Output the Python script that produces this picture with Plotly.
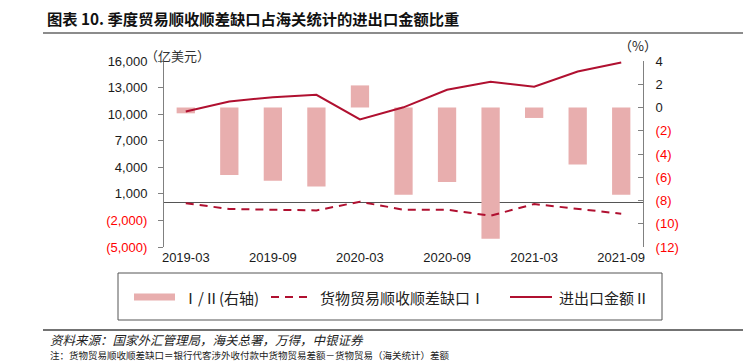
import plotly.graph_objects as go

# ---------------- data ----------------
quarters = ["2019-03", "2019-06", "2019-09", "2019-12", "2020-03", "2020-06",
            "2020-09", "2020-12", "2021-03", "2021-06", "2021-09"]
ratio_pct = [-0.5, -5.8, -6.3, -6.8, 1.9, -7.5, -6.4, -11.3, -0.9, -4.9, -7.5]      # I/II (right axis, %)
gap_usd = [-50, -710, -790, -870, 110, -790, -790, -1470, -150, -710, -1240]       # 货物贸易顺收顺差缺口 I
trade_usd = [10300, 11430, 11920, 12180, 9400, 10770, 12750, 13650, 13090, 14810, 15830]  # 进出口金额 II
x_tick_labels = quarters[::2]
left_ticks = [-5000, -2000, 1000, 4000, 7000, 10000, 13000, 16000]
right_ticks = [-12, -10, -8, -6, -4, -2, 0, 2, 4]

# ---------------- styles ----------------
W, H = 751, 362
OFF = 8  # page body margin offset
L, R, T, B = 164 - OFF, 643 - OFF, 61 - OFF, 247 - OFF
BAR_C = "#E8AEAE"
LINE_C = "#B01030"
NEG_C = "#FF0000"
CJK = "Noto Sans CJK SC"
LAT = "Liberation Sans, Arial"


def fmt_left(v):
    if v < 0:
        return f"<span style='color:{NEG_C}'>({abs(v):,})</span>"
    return f"{v:,}"


def fmt_right(v):
    if v < 0:
        return f"<span style='color:{NEG_C}'>({abs(v)})</span>"
    return f"{v}"


def px(x):
    return (x - OFF - L) / (R - L)


def py(y):
    return (B - (y - OFF)) / (B - T)


fig = go.Figure()
fig.add_trace(go.Bar(x=quarters, y=ratio_pct, yaxis="y", marker_color=BAR_C,
                     marker_line_width=0, width=0.42, name="Ⅰ/Ⅱ(右轴)"))
fig.add_trace(go.Scatter(x=quarters, y=gap_usd, yaxis="y2", mode="lines",
                         line=dict(color=LINE_C, width=2, dash="8px,6px"),
                         name="货物贸易顺收顺差缺口Ⅰ"))
fig.add_trace(go.Scatter(x=quarters, y=trade_usd, yaxis="y2", mode="lines",
                         line=dict(color=LINE_C, width=2), name="进出口金额Ⅱ"))

axis_font = dict(family=LAT, size=13, color="#1a1a1a")
fig.update_layout(
    width=W, height=H,
    margin=dict(l=L, r=W - R, t=T, b=H - B),
    paper_bgcolor="white", plot_bgcolor="white",
    showlegend=False,
    xaxis=dict(type="category", range=[-0.5, 10.5], tickmode="array",
               tickvals=x_tick_labels, ticktext=x_tick_labels,
               showline=False, showgrid=False, zeroline=False, ticks="",
               tickfont=axis_font, ticklabelstandoff=1),
    yaxis=dict(side="right", range=[-12, 4], tickmode="array",
               tickvals=right_ticks, ticktext=[fmt_right(v) for v in right_ticks],
               showgrid=False, zeroline=False, showline=True, linecolor="#808080",
               linewidth=1, ticks="inside", ticklen=5, tickcolor="#808080",
               tickfont=axis_font, ticklabelstandoff=9),
    yaxis2=dict(side="left", overlaying="y", range=[-5000, 16000], tickmode="array",
                tickvals=left_ticks, ticktext=[fmt_left(v) for v in left_ticks],
                showgrid=False, zeroline=True, zerolinecolor="#555555", zerolinewidth=1,
                showline=True, linecolor="#808080", linewidth=1, ticks="outside",
                ticklen=5, tickcolor="#808080", tickfont=axis_font, ticklabelstandoff=8),
)

shapes = []
annotations = []

# title + rule
annotations.append(dict(xref="paper", yref="paper", x=px(45), y=py(18), xanchor="left",
                        yanchor="middle", showarrow=False,
                        text="<b>图表 10. 季度贸易顺收顺差缺口占海关统计的进出口金额比重</b>",
                        font=dict(family=CJK, size=15.3, color="#111")))
shapes.append(dict(type="line", xref="paper", yref="paper", x0=px(43), x1=px(751),
                   y0=py(33), y1=py(33), line=dict(color="#8c8c8c", width=2)))

# axis unit labels
annotations.append(dict(xref="paper", yref="paper", x=px(143), y=py(55), xanchor="left",
                        yanchor="middle", showarrow=False, text="（亿美元）",
                        font=dict(family=CJK, size=13, color="#333")))
annotations.append(dict(xref="paper", yref="paper", x=px(618), y=py(45), xanchor="left",
                        yanchor="middle", showarrow=False, text="（%）", borderpad=0,
                        font=dict(family=CJK, size=13, color="#222")))

# legend box
shapes.append(dict(type="rect", xref="paper", yref="paper", x0=px(118), x1=px(662),
                   y0=py(273), y1=py(320), line=dict(color="#555", width=1),
                   fillcolor="rgba(0,0,0,0)"))
ly = 297
shapes.append(dict(type="rect", xref="paper", yref="paper", x0=px(134), x1=px(175),
                   y0=py(ly - 3.5), y1=py(ly + 3.5), line=dict(width=0), fillcolor=BAR_C))
shapes.append(dict(type="line", xref="paper", yref="paper", x0=px(271), x1=px(312),
                   y0=py(ly), y1=py(ly), line=dict(color=LINE_C, width=2, dash="8px,6px")))
shapes.append(dict(type="line", xref="paper", yref="paper", x0=px(510), x1=px(552),
                   y0=py(ly), y1=py(ly), line=dict(color=LINE_C, width=2)))
leg_font = dict(family=CJK, size=15, color="#222")
for xx, txt in [(181, "Ⅰ/Ⅱ(右轴)"), (318, "货物贸易顺收顺差缺口Ⅰ"), (557, "进出口金额Ⅱ")]:
    annotations.append(dict(xref="paper", yref="paper", x=px(xx), y=py(ly), xanchor="left",
                            yanchor="middle", showarrow=False, text=txt, font=leg_font))

# footer
shapes.append(dict(type="line", xref="paper", yref="paper", x0=px(43), x1=px(745),
                   y0=py(330), y1=py(330), line=dict(color="#444", width=1.5)))
annotations.append(dict(xref="paper", yref="paper", x=px(49), y=py(339), xanchor="left",
                        yanchor="middle", showarrow=False, borderpad=0,
                        text="<i>资料来源：国家外汇管理局，海关总署，万得，中银证券</i>",
                        font=dict(family=CJK, size=12.5, color="#222")))
annotations.append(dict(xref="paper", yref="paper", x=px(49), y=py(355.2), xanchor="left",
                        yanchor="middle", showarrow=False, borderpad=0,
                        text="注：货物贸易顺收顺差缺口＝银行代客涉外收付款中货物贸易差额－货物贸易（海关统计）差额",
                        font=dict(family=CJK, size=9.5, color="#222")))

fig.update_layout(shapes=shapes, annotations=annotations)
fig.write_html("out.html")
